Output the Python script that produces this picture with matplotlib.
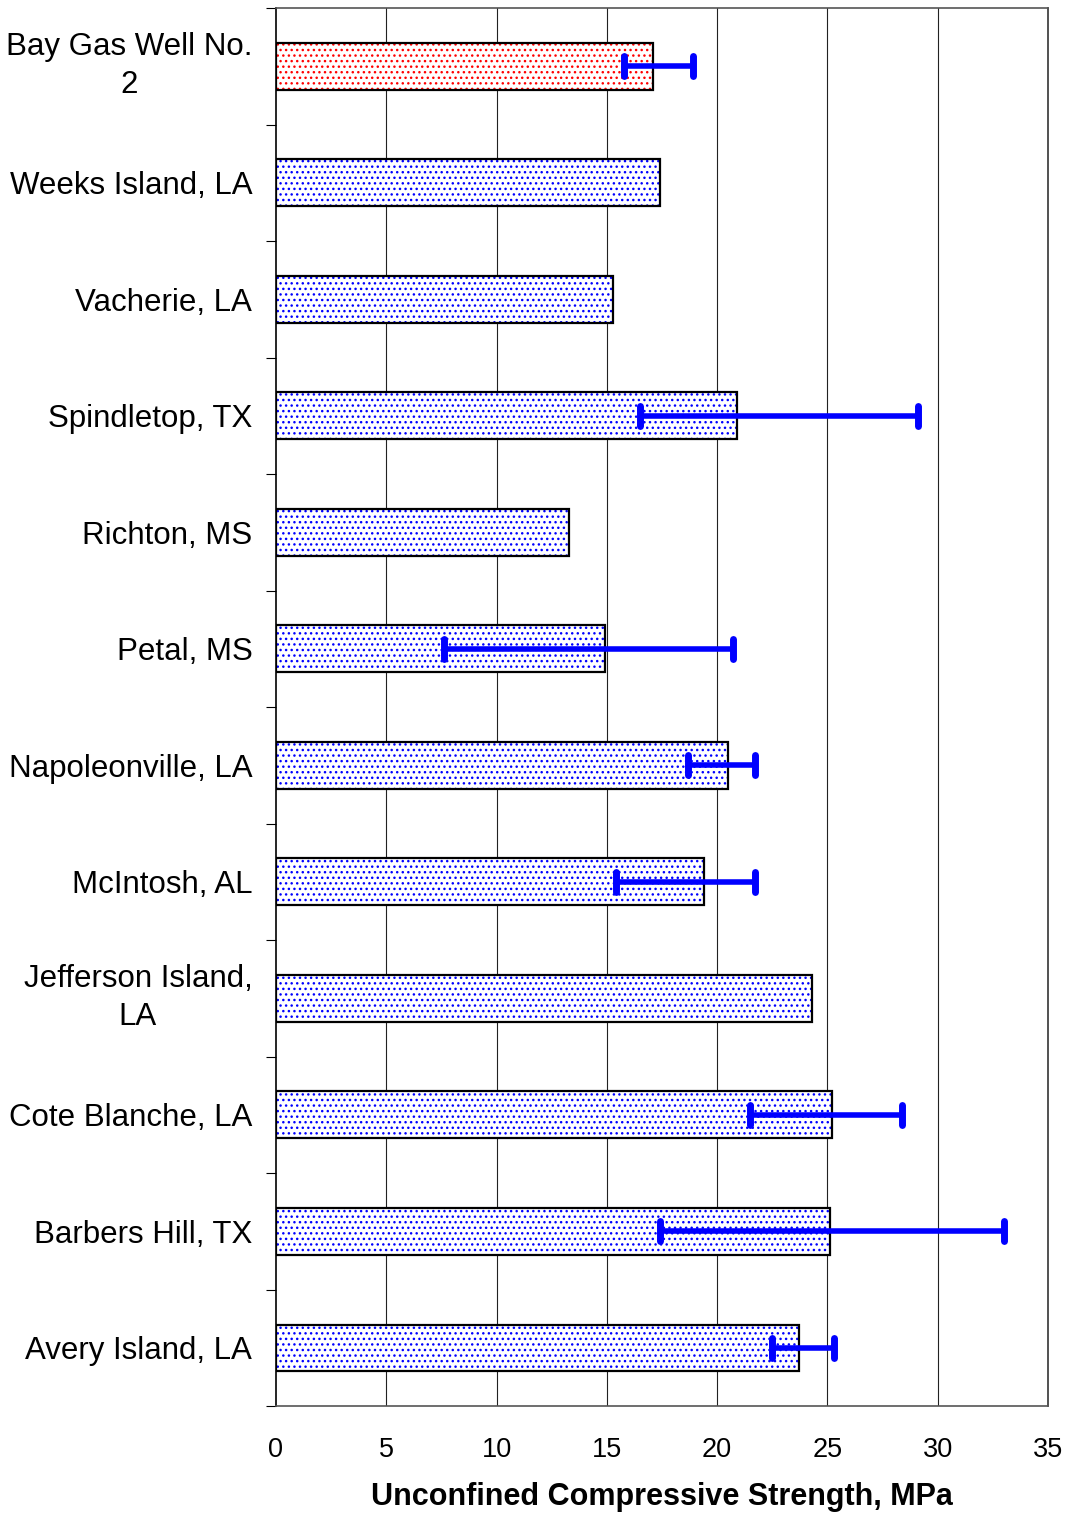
import numpy as np
import matplotlib
matplotlib.use("Agg")
import matplotlib.pyplot as plt
from matplotlib.markers import MarkerStyle

plt.rcParams['font.family'] = ['Liberation Sans', 'DejaVu Sans']

sites = ['Bay Gas Well No.\n2', 'Weeks Island, LA', 'Vacherie, LA', 'Spindletop, TX',
         'Richton, MS', 'Petal, MS', 'Napoleonville, LA', 'McIntosh, AL',
         'Jefferson Island,\nLA', 'Cote Blanche, LA', 'Barbers Hill, TX', 'Avery Island, LA']
ucs = [17.1, 17.4, 15.3, 20.9, 13.3, 14.9, 20.5, 19.4, 24.3, 25.2, 25.1, 23.7]
# ranges (low, high) for sites with error bars; None where not shown
range_low = [15.8, None, None, 16.5, None, 7.6, 18.7, 15.4, None, 21.5, 17.4, 22.5]
range_high = [18.9, None, None, 29.1, None, 20.7, 21.7, 21.7, None, 28.4, 33.0, 25.3]

fig = plt.figure(figsize=(10.68, 15.14), dpi=100)
ax = fig.add_axes([0.2584, 0.0713, 0.7229, 0.9234])

y = np.arange(len(sites))
dot_colors = ['red'] + ['blue'] * (len(sites) - 1)

for i in range(len(sites)):
    ax.barh(y[i], ucs[i], height=0.4, color='white', edgecolor=dot_colors[i],
            hatch='...', linewidth=0, zorder=2)
    ax.barh(y[i], ucs[i], height=0.4, fill=False, edgecolor='black',
            linewidth=1.6, zorder=3)

for i in range(len(sites)):
    if range_low[i] is None:
        continue
    mid = (range_low[i] + range_high[i]) / 2
    half = (range_high[i] - range_low[i]) / 2
    eb = ax.errorbar(mid, y[i], xerr=half, fmt='none', ecolor='blue', elinewidth=4,
                     capsize=7, capthick=5, zorder=4)
    for cap in eb[1]:
        cap.set_marker(MarkerStyle('|', capstyle='round'))

ax.set_xlim(0, 35)
ax.set_ylim(len(sites) - 0.5, -0.5)
ax.set_xticks(np.arange(0, 36, 5))
ax.tick_params(axis='x', length=0, pad=22, labelsize=19.5)
ax.set_yticks(y)
ax.set_yticklabels(sites, fontsize=22.5, multialignment='center', linespacing=1.35)
for lbl in ax.get_yticklabels():
    if '\n' in lbl.get_text():
        lbl.set_va('center')
ax.set_yticks(np.arange(-0.5, len(sites), 1), minor=True)
ax.tick_params(axis='y', which='major', length=0, pad=17)
ax.tick_params(axis='y', which='minor', length=7, width=0.8)

for xv in range(5, 35, 5):
    ax.axvline(xv, color='#222222', lw=0.8, zorder=1)

for s in ['top', 'bottom']:
    ax.spines[s].set_color('#555555')
    ax.spines[s].set_linewidth(1.2)
ax.spines['left'].set_linewidth(1.2)
ax.spines['right'].set_linewidth(1.2)
ax.spines['right'].set_color('#333333')

ax.set_xlabel('Unconfined Compressive Strength, MPa', fontsize=22, fontweight='bold', labelpad=14)

fig.savefig('out.png', dpi=100)
